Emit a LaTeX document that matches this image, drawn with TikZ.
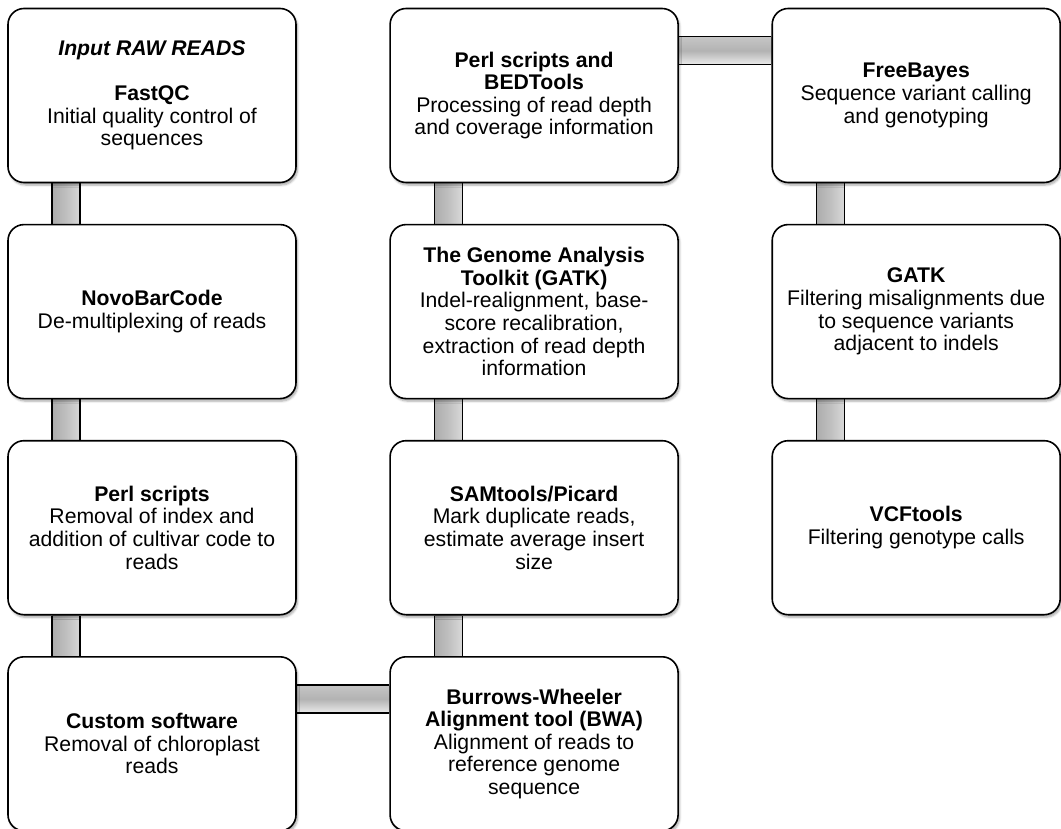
\documentclass[tikz,border=0pt]{standalone}
\usepackage{fontspec}
\setmainfont{Liberation Sans}
\usetikzlibrary{positioning,shadows.blur,backgrounds}
\tikzset{
  stepbox/.style={draw, line width=1.6pt, rounded corners=16pt, fill=white,
    minimum width=288pt, minimum height=174pt, inner sep=0pt, align=center,
    font=\fontsize{21.2}{22.6}\selectfont,
    blur shadow={shadow xshift=1.5pt, shadow yshift=-2.5pt, shadow opacity=35, shadow blur steps=6}},
  vpipe/.style={shading=axis, left color=gray!65, right color=gray!30, middle color=gray!50},
  hpipe/.style={shading=axis, top color=gray!45, bottom color=gray!15, middle color=gray!60},
  pipeedge/.style={line width=1.6pt}
}
\begin{document}
\begin{tikzpicture}[x=1pt, y=1pt, node distance=40.5pt and 92.5pt]
\useasboundingbox (0,0) rectangle (1061,-829);
% first column
\node[stepbox] (fastqc) at (152,-95.5) {\textbf{\textit{Input RAW READS}}\\[22pt]
  \textbf{FastQC}\\Initial quality control of\\sequences};
\node[stepbox, below=of fastqc] (novo) {\textbf{NovoBarCode}\\De-multiplexing of reads};
\node[stepbox, below=of novo] (perl) {\textbf{Perl scripts}\\Removal of index and\\addition of cultivar code to\\reads};
\node[stepbox, below=of perl] (custom) {\textbf{Custom software}\\Removal of chloroplast\\reads};
% second column
\node[stepbox, right=of fastqc] (bedtools) {\textbf{Perl scripts and}\\\textbf{BEDTools}\\Processing of read depth\\and coverage information};
\node[stepbox, below=of bedtools] (gatk) {\textbf{The Genome Analysis}\\\textbf{Toolkit (GATK)}\\Indel-realignment, base-\\score recalibration,\\extraction of read depth\\information};
\node[stepbox, below=of gatk] (samtools) {\textbf{SAMtools/Picard}\\Mark duplicate reads,\\estimate average insert\\size};
\node[stepbox, below=of samtools] (bwa) {\textbf{Burrows-Wheeler}\\\textbf{Alignment tool (BWA)}\\Alignment of reads to\\reference genome\\sequence};
% third column
\node[stepbox, right=of bedtools] (freebayes) {\textbf{FreeBayes}\\Sequence variant calling\\and genotyping};
\node[stepbox, below=of freebayes] (gatkfilt) {\textbf{GATK}\\Filtering misalignments due\\to sequence variants\\adjacent to indels};
\node[stepbox, below=of gatkfilt] (vcf) {\textbf{VCFtools}\\Filtering genotype calls};
% pipes between the boxes
\begin{scope}[on background layer]
\foreach \a/\b in {fastqc/novo, novo/perl, perl/custom, bedtools/gatk, gatk/samtools, samtools/bwa, freebayes/gatkfilt, gatkfilt/vcf}{
  \shade[vpipe] ([xshift=45pt]\a.south west) rectangle ([xshift=73pt]\b.north west);
  \draw[pipeedge] ([xshift=45pt]\a.south west) -- ([xshift=45pt]\b.north west)
    ([xshift=73pt]\a.south west) -- ([xshift=73pt]\b.north west);
}
\foreach \a/\b in {bedtools/freebayes, custom/bwa}{
  \shade[hpipe] ([yshift=-29pt]\a.north east) rectangle ([yshift=-57pt]\b.north west);
  \draw[pipeedge] ([yshift=-29pt]\a.north east) -- ([yshift=-29pt]\b.north west)
    ([yshift=-57pt]\a.north east) -- ([yshift=-57pt]\b.north west);
}
\end{scope}
\end{tikzpicture}
\end{document}
